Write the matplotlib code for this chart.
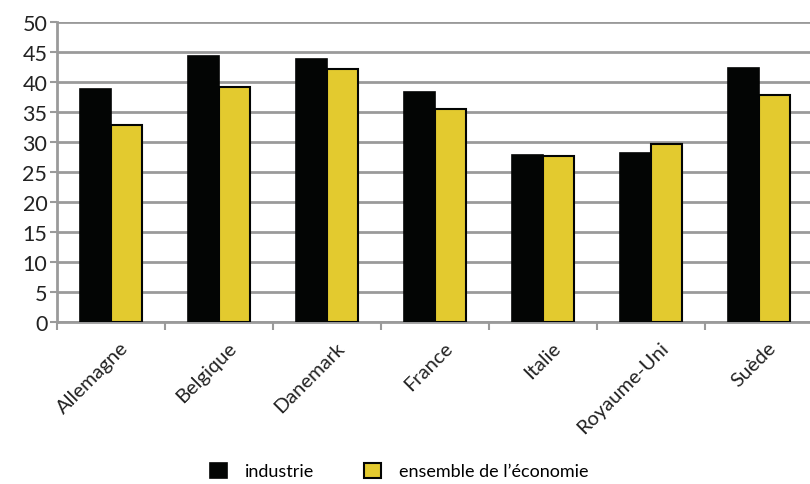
import numpy as np
import matplotlib.pyplot as plt
import matplotlib.transforms as mtransforms

plt.rcParams['font.family'] = ['Lato', 'DejaVu Sans']

pays = ['Allemagne', 'Belgique', 'Danemark', 'France', 'Italie', 'Royaume-Uni', 'Suède']
industrie = [38.8, 44.3, 43.8, 38.3, 27.8, 28.2, 42.3]
ensemble = [32.8, 39.2, 42.2, 35.5, 27.7, 29.7, 37.8]
yticks = list(range(0, 51, 5))

grid_col = '#9a9a9a'
noir = '#030504'
jaune = '#e3ca2f'

fig = plt.figure(figsize=(8.1, 4.85), dpi=100)
ax = fig.add_axes([0.0704, 0.334, 0.9333, 0.6186])

x = np.arange(len(pays))
w = 0.29
ax.bar(x - w / 2, industrie, w, color=noir, edgecolor=noir, linewidth=1.2,
       label='industrie', zorder=3)
ax.bar(x + w / 2, ensemble, w, color=jaune, edgecolor=noir, linewidth=1.5,
       label='ensemble de l\u2019économie', zorder=3)

ax.set_xlim(-0.5, len(pays) - 0.5)
ax.set_ylim(0, 50)
ax.set_yticks(yticks)
ax.set_yticklabels([str(v) for v in yticks], fontsize=15.5, color='#222222')
ax.yaxis.grid(True, color=grid_col, linewidth=2, zorder=0)
ax.tick_params(axis='y', length=5, width=1.5, color=grid_col, pad=2)

ax.set_xticks(x)
ax.set_xticklabels(pays, rotation=45, ha='right', rotation_mode='anchor',
                   fontsize=14.5, color='#222222')
ax.tick_params(axis='x', length=0, pad=12)
# decaler un peu les etiquettes vers la droite
shift = mtransforms.ScaledTranslation(6 / 72, 0, fig.dpi_scale_trans)
for lab in ax.get_xticklabels():
    lab.set_transform(lab.get_transform() + shift)
ax.set_xticks(np.arange(-0.5, len(pays)), minor=True)
ax.tick_params(axis='x', which='minor', length=6, width=1.5, color=grid_col)

for s in ['top', 'right']:
    ax.spines[s].set_visible(False)
for s in ['left', 'bottom']:
    ax.spines[s].set_color(grid_col)
    ax.spines[s].set_linewidth(2)

fig.legend(loc='center', bbox_to_anchor=(0.493, 0.027), ncol=2, frameon=False,
           fontsize=13, handlelength=0.9, handleheight=0.9, columnspacing=2.8,
           handletextpad=1.0)

fig.savefig('out.png', dpi=100)
